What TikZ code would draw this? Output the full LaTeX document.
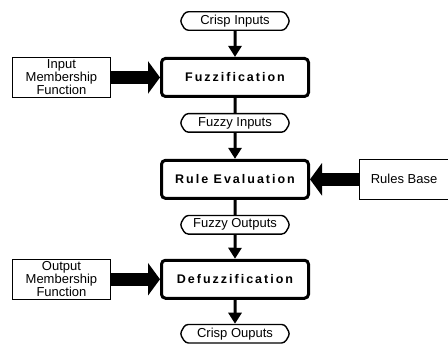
\documentclass[tikz,border=0pt]{standalone}
\usepackage{fontspec}
\setmainfont{Liberation Sans}
\newfontfamily\stagefont[LetterSpace=16]{Liberation Sans}
\usetikzlibrary{shapes.symbols, arrows.meta, positioning}

\begin{document}
\begin{tikzpicture}[
  x=1pt, y=-1pt,
  every node/.style={font=\fontsize{13}{13}\selectfont},
  databox/.style={shape=signal, signal to=west and east, signal pointer angle=120, draw=black, line width=1.4pt, rounded corners=3pt, minimum width=110pt, minimum height=18.5pt, inner sep=1pt},
  stagebox/.style={rectangle, rounded corners=4pt, draw=black, line width=3pt, minimum width=147pt, minimum height=38pt, font=\stagefont\bfseries\fontsize{12.5}{12.5}\selectfont},
  sidebox/.style={rectangle, draw=black, line width=1.1pt, minimum height=40pt, inner sep=2pt, align=center},
  arr/.style={-{Triangle[length=11pt, width=13pt]}, line width=3pt},
  link/.style={line width=3pt},
  bigarr/.style={-{Triangle[length=12pt, width=32pt]}, line width=13pt},
]
\useasboundingbox (0,0) rectangle (448,345);

%% Main column
\node[databox] (crispin) at (235,21) {Crisp Inputs};
\node[stagebox, below=26pt of crispin] (fuzz)     {Fuzzification};
\node[databox,  below=15pt of fuzz]    (fuzzin)   {Fuzzy Inputs};
\node[stagebox, below=26pt of fuzzin]  (ruleeval) {Rule Evaluation};
\node[databox,  below=15pt of ruleeval] (fuzzout) {Fuzzy Outputs};
\node[stagebox, below=24pt of fuzzout] (defuzz)   {Defuzzification};
\node[databox,  below=24pt of defuzz]  (crispout) {Crisp Ouputs};

%% Side inputs
\node[sidebox, left=49pt of fuzz, minimum width=98pt]      (inmf)  {Input\\Membership\\Function};
\node[sidebox, right=49pt of ruleeval, minimum width=89pt] (rules) {Rules Base};
\node[sidebox, left=49pt of defuzz, minimum width=98pt]    (outmf) {Output\\Membership\\Function};

%% Arrows
\draw[arr]  (crispin)  -- (fuzz);
\draw[link] (fuzz)     -- (fuzzin);
\draw[arr]  (fuzzin)   -- (ruleeval);
\draw[link] (ruleeval) -- (fuzzout);
\draw[arr]  (fuzzout)  -- (defuzz);
\draw[arr]  (defuzz)   -- (crispout);
\draw[bigarr] (inmf)  -- (fuzz);
\draw[bigarr] (rules) -- (ruleeval);
\draw[bigarr] (outmf) -- (defuzz);

\end{tikzpicture}
\end{document}
